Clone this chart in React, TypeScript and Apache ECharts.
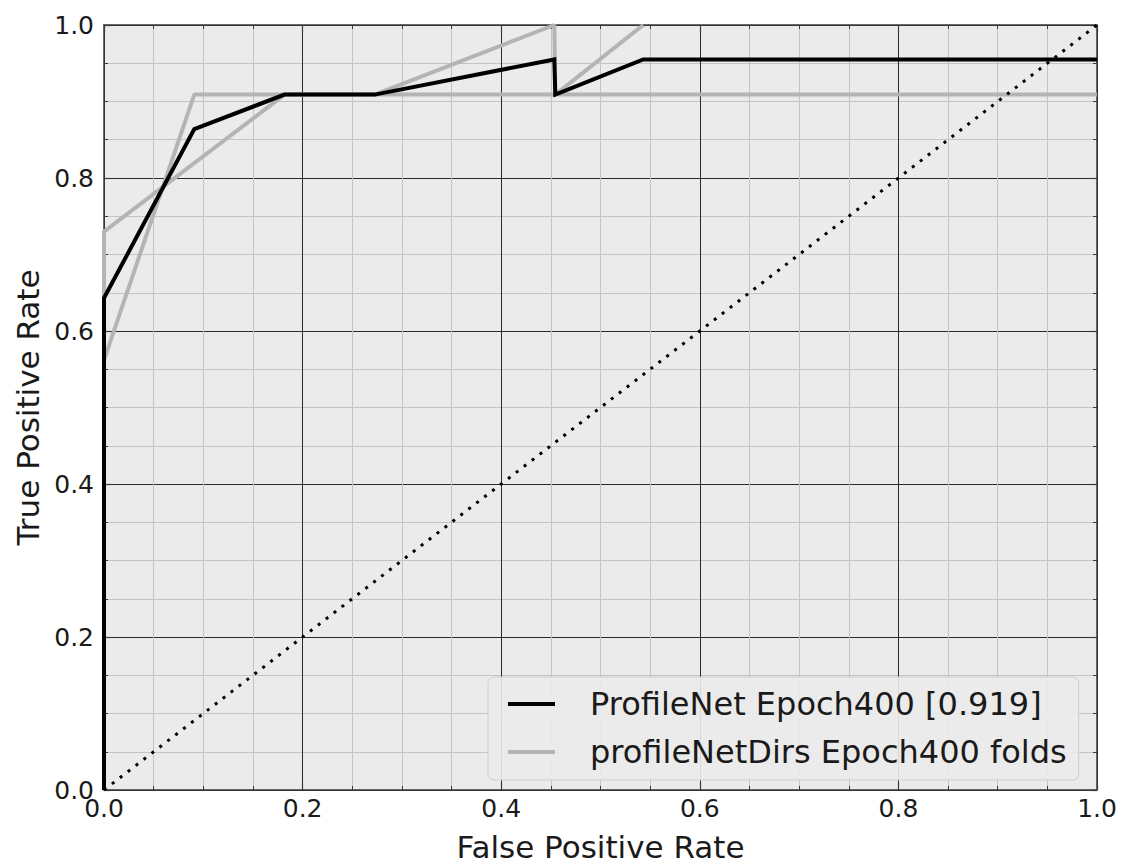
import React, { useEffect, useRef } from "react";
import * as echarts from "echarts";

const meanLabel = "ProfileNet Epoch400 [0.919]";
const foldLabel = "profileNetDirs Epoch400 folds";

const meanFpr = [0, 0, 0.0909, 0.1818, 0.2727, 0.4535, 0.4545, 0.543, 1.0];
const meanTpr = [0, 0.643, 0.864, 0.909, 0.909, 0.955, 0.909, 0.955, 0.955];

const fold1Fpr = [0, 0, 0.0909, 1.0];
const fold1Tpr = [0, 0.562, 0.909, 0.909];

const fold2Fpr = [0, 0, 0.1818, 0.2727, 0.4535, 0.4545, 0.543];
const fold2Tpr = [0, 0.73, 0.909, 0.909, 1.0, 0.909, 1.0];

const chanceFpr = [0, 1];
const chanceTpr = [0, 1];

const axisMin = 0;
const axisMax = 1;
const majorStep = 0.2;

const FONT = "DejaVu Sans";

function pairs(xs: number[], ys: number[]) {
  return xs.map((x, i) => [x, ys[i]]);
}

export default function App() {
  const ref = useRef<HTMLDivElement>(null);
  useEffect(() => {
    document.body.style.margin = "0";
    const chart = echarts.init(ref.current!, null, { renderer: "svg" });
    const baseAxis = (pos: string, main: boolean, name?: string) => ({
      type: "value",
      position: pos,
      min: axisMin,
      max: axisMax,
      interval: majorStep,
      name: main ? name : undefined,
      nameLocation: "middle",
      nameGap: pos === "bottom" ? 41 : 48,
      nameTextStyle: { fontFamily: FONT, fontSize: 31, color: "#1a1a1a" },
      axisLine: { show: true, onZero: false, lineStyle: { color: "#3a3a3a", width: 1.5 } },
      axisTick: { show: true, inside: true, length: 7, lineStyle: { color: "#3a3a3a", width: 1.2 } },
      minorTick: { show: true, splitNumber: 4, length: 4, lineStyle: { color: "#3a3a3a", width: 1 } },
      axisLabel: {
        show: main,
        fontFamily: FONT,
        fontSize: 25,
        color: "#1a1a1a",
        margin: pos === "bottom" ? 6 : 10,
        formatter: (v: number) => v.toFixed(1),
      },
      splitLine: { show: main, lineStyle: { color: "#2a2a2a", width: 1 } },
      minorSplitLine: { show: main, lineStyle: { color: "#c4c4c4", width: 1 } },
    });
    chart.setOption({
      animation: false,
      backgroundColor: "#ffffff",
      grid: {
        left: 104,
        top: 25,
        width: 993,
        height: 770,
        show: true,
        backgroundColor: "#ebebeb",
        borderWidth: 0,
      },
      xAxis: [baseAxis("bottom", true, "False Positive Rate"), baseAxis("top", false)],
      yAxis: [baseAxis("left", true, "True Positive Rate"), baseAxis("right", false)],
      legend: {
        orient: "vertical",
        left: 488,
        top: 677,
        padding: [9, 12, 10, 20],
        itemWidth: 47,
        itemHeight: 4,
        itemGap: 12,
        backgroundColor: "rgba(235,235,235,0.9)",
        borderColor: "#cfcfcf",
        borderWidth: 1,
        borderRadius: 6,
        textStyle: {
          fontFamily: FONT,
          fontSize: 32,
          lineHeight: 36,
          color: "#1a1a1a",
          padding: [0, 0, 0, 30],
        },
        data: [
          { name: meanLabel, icon: "rect", itemStyle: { color: "#000000" } },
          { name: foldLabel, icon: "rect", itemStyle: { color: "#b4b4b4" } },
        ],
      },
      series: [
        {
          type: "line",
          name: foldLabel,
          data: pairs(fold1Fpr, fold1Tpr),
          symbol: "none",
          lineStyle: { color: "#b4b4b4", width: 4 },
          itemStyle: { color: "#b4b4b4" },
          z: 2,
        },
        {
          type: "line",
          name: foldLabel,
          data: pairs(fold2Fpr, fold2Tpr),
          symbol: "none",
          lineStyle: { color: "#b4b4b4", width: 4 },
          itemStyle: { color: "#b4b4b4" },
          z: 2,
        },
        {
          type: "line",
          name: meanLabel,
          data: pairs(meanFpr, meanTpr),
          symbol: "none",
          lineStyle: { color: "#000000", width: 4, join: "miter" },
          itemStyle: { color: "#000000" },
          z: 3,
        },
        {
          type: "line",
          name: "chance",
          data: pairs(chanceFpr, chanceTpr),
          symbol: "none",
          lineStyle: { color: "#000000", width: 3, type: [3, 7], cap: "butt" },
          z: 4,
        },
      ],
    });
    return () => chart.dispose();
  }, []);
  return <div ref={ref} style={{ width: 1130, height: 867 }} />;
}
